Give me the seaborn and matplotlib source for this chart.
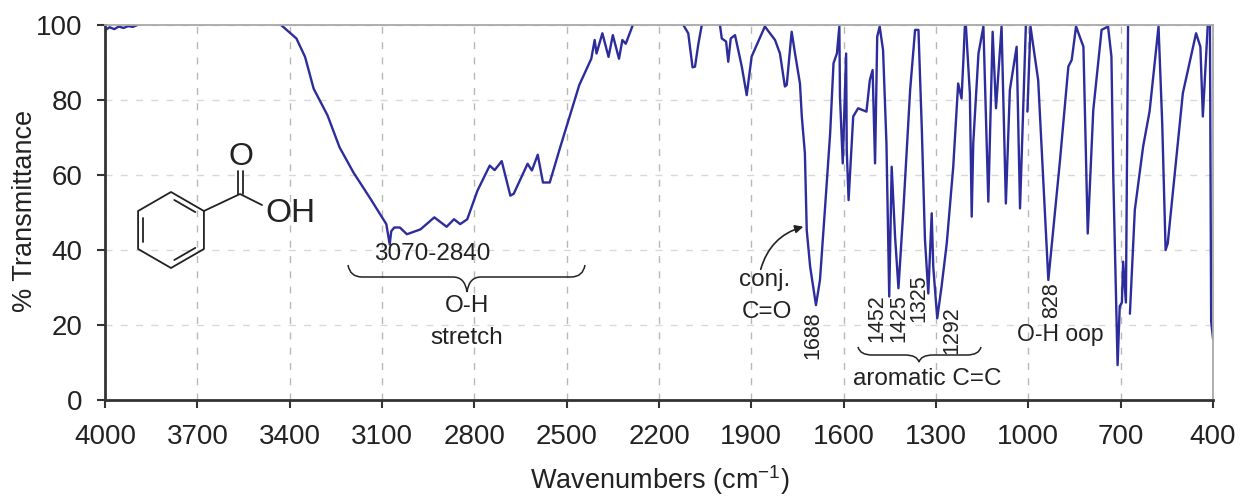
import numpy as np
import pandas as pd
import matplotlib
matplotlib.use("Agg")
import matplotlib.pyplot as plt
from matplotlib.path import Path
from matplotlib.patches import PathPatch
import seaborn as sns

# Spectrum, one pair of lists per stretch below the 100% line
wn_a = [4000, 3985, 3970, 3955, 3940, 3925, 3910, 3895]
tr_a = [98.6, 99.4, 98.9, 99.6, 99.2, 99.7, 99.5, 100]

wn_b = [3428, 3378, 3350, 3322, 3277, 3238, 3193, 3137, 3086, 3075, 3070, 3060, 3042, 3019, 2975,
        2930, 2890, 2866, 2846, 2823, 2790, 2750, 2734, 2711, 2683, 2672, 2627, 2613, 2594, 2577,
        2555, 2521, 2459, 2420, 2409, 2403, 2384, 2364, 2350, 2330, 2319, 2308, 2285]
tr_b = [100, 96.4, 91.5, 83, 75.9, 67.4, 60.7, 53.6, 46.9, 41.5, 45, 46, 46, 44.2, 45.5,
        48.7, 46.2, 48.2, 46.9, 48.2, 55.8, 62.5, 61.3, 63.7, 54.5, 55, 63, 61.2, 65.4, 58,
        58, 67.4, 84, 91, 96, 92.4, 97.8, 91.5, 97.3, 91, 96, 95, 100]

wn_c = [2121, 2105, 2091, 2083, 2072, 2061]
tr_c = [100, 97.8, 88.7, 88.9, 95, 100]

wn_d = [2002, 1996, 1982, 1975, 1967, 1953, 1931, 1915, 1899, 1856, 1823, 1807, 1791, 1785, 1769,
        1758, 1742, 1736, 1726, 1720, 1709, 1690, 1677, 1661, 1644, 1633, 1622, 1614, 1612, 1603,
        1592, 1590, 1584, 1569, 1553, 1526, 1515, 1506, 1498, 1491, 1483, 1472, 1461, 1452, 1444,
        1433, 1422, 1406, 1384, 1368, 1357, 1346, 1336, 1325, 1314, 1309, 1296, 1282, 1265, 1244,
        1228, 1217, 1211, 1206]
tr_d = [100, 96.4, 95.6, 90.2, 96.4, 97.3, 88.9, 81.3, 91.6, 99.6, 96, 92.4, 83.6, 84, 98.2,
        92.4, 84.4, 75.6, 65.8, 45.3, 35.6, 25.3, 32, 50.7, 71, 89.8, 92.4, 99.6, 80.9, 63.1,
        92.4, 66.7, 53.3, 75.6, 77.8, 76.9, 85.3, 88, 63.1, 96.9, 99.6, 93.3, 68.4, 27.6, 62.2,
        43.6, 29.8, 50.7, 82.7, 98.7, 98.7, 72, 43, 28.4, 49.8, 35.6, 21.8, 30.2, 41.8, 62.2,
        84.4, 80.4, 90.7, 100]

wn_e = [1203, 1190, 1184, 1179, 1162, 1146, 1130, 1116, 1105, 1087, 1073, 1060, 1038, 1027, 1008]
tr_e = [100, 81.8, 48.9, 68.4, 92.4, 99.6, 52.9, 98.2, 77.8, 99.6, 52.4, 82.7, 94.2, 51.1, 100]

wn_f = [1003, 993, 968, 935, 897, 870, 859, 845, 821, 807, 789, 762, 741, 730, 724, 710, 703, 696,
        692, 683, 676]
tr_f = [76.9, 99.6, 85.3, 32, 64, 88.9, 90.7, 99.6, 94.2, 44.4, 77.3, 98.7, 99.6, 91.6, 59.6, 9.3, 25, 26,
        36.9, 26, 99.6]

wn_g = [670, 654, 627, 606, 577, 565, 554, 547, 498, 455, 441, 433, 417]
tr_g = [23, 50.7, 67.6, 77, 99.6, 73.8, 40, 41.8, 81.8, 97.8, 94.2, 75.6, 100]

wn_h = [410, 406, 400]
tr_h = [100, 21, 16.4]

segments = [(wn_a, tr_a), (wn_b, tr_b), (wn_c, tr_c), (wn_d, tr_d),
            (wn_e, tr_e), (wn_f, tr_f), (wn_g, tr_g), (wn_h, tr_h)]

x_ticks = [4000, 3700, 3400, 3100, 2800, 2500, 2200, 1900, 1600, 1300, 1000, 700, 400]
y_ticks = [0, 20, 40, 60, 80, 100]

sns.set_theme(style="whitegrid")
plt.rcParams['font.family'] = ['Liberation Sans', 'DejaVu Sans']
plt.rcParams['mathtext.default'] = 'regular'

fig = plt.figure(figsize=(12.43, 4.97), dpi=100)
ax = fig.add_axes([105 / 1243, 1 - 400 / 497, (1213 - 105) / 1243, 375 / 497])

# Draw the spectrum
for wn, tr in segments:
    seg = pd.DataFrame({"wn": wn, "tr": tr})
    sns.lineplot(data=seg, x="wn", y="tr", sort=False, estimator=None,
                 color="#2c2c9c", linewidth=1.7, ax=ax)

ax.set_xlim(4000, 400)
ax.set_ylim(0, 100)
ax.set_xticks(x_ticks)
ax.set_yticks(y_ticks)
ax.set_xlabel("")
ax.set_ylabel("")
ax.tick_params(axis="both", labelsize=20, length=6, width=1.5, color="#333333",
               labelcolor="#222222", left=True, bottom=True)
ax.tick_params(axis="x", pad=11)
ax.tick_params(axis="y", pad=10)
ax.grid(True, axis="x", linestyle=(0, (5, 6)), color="#b8b8b8", linewidth=1)
ax.grid(True, axis="y", linestyle=(0, (5, 6)), color="#d8d8d8", linewidth=1)
ax.spines["left"].set(color="#333333", linewidth=2)
ax.spines["bottom"].set(color="#333333", linewidth=2)
ax.spines["top"].set(color="#a8a8a8", linewidth=1.3)
ax.spines["right"].set(color="#a8a8a8", linewidth=1.3)

# Overlay in pixel coordinates for the annotations
ov = fig.add_axes([0, 0, 1, 1], facecolor="none")
ov.set_xlim(0, 1243)
ov.set_ylim(497, 0)
ov.axis("off")


def label(x, y, s, size=17.5, rotation=0):
    ov.text(x, y, s, ha="center", va="center", fontsize=size, rotation=rotation, color="#222222")


def brace(x0, x1, xm, top, mid, tip):
    r = 14
    verts = [(x0, top), (x0 + 2, mid), (x0 + r, mid), (xm - r, mid), (xm - 2, mid), (xm, tip),
             (xm + 2, mid), (xm + r, mid), (x1 - r, mid), (x1 - 2, mid), (x1, top)]
    codes = [Path.MOVETO, Path.CURVE3, Path.CURVE3, Path.LINETO, Path.CURVE3, Path.CURVE3,
             Path.CURVE3, Path.CURVE3, Path.LINETO, Path.CURVE3, Path.CURVE3]
    ov.add_patch(PathPatch(Path(verts, codes), fc="none", ec="#222222", lw=1.1))


label(25, 211, "% Transmittance", size=19.5, rotation=90)
label(660, 480, r"Wavenumbers (cm$^{-1}$)", size=19.5)

label(432, 254, "3070-2840", size=17.5)
label(467, 306, "O-H")
label(467, 338, "stretch")
brace(348, 585, 467, 265, 277, 292)

label(765, 280, "conj.")
label(767, 312, "C=O")
ov.annotate("", xy=(806, 226), xytext=(760, 272),
            arrowprops=dict(arrowstyle="-|>", color="#222222", lw=1.2,
                            connectionstyle="arc3,rad=-0.3"))

label(813, 335, "1688", size=15.5, rotation=90)
label(877, 318, "1452", size=15.5, rotation=90)
label(899, 318, "1425", size=15.5, rotation=90)
label(919, 298, "1325", size=15.5, rotation=90)
label(952, 330, "1292", size=15.5, rotation=90)
label(1052, 300, "828", size=15.5, rotation=90)
label(1060, 335, "O-H oop", size=16.5)
label(927, 379, "aromatic C=C")
brace(858, 981, 919, 347, 355, 362)

# Benzoic acid structure
cx, cy, rad = 171, 230, 38
ang = np.radians(np.arange(30, 390, 60))
hx = cx + rad * np.cos(ang)
hy = cy - rad * np.sin(ang)
ov.plot(np.r_[hx, hx[0]], np.r_[hy, hy[0]], color="#222222", lw=1.3)
for i in (0, 2, 4):
    j = i + 1
    ax0, ay0 = cx + (hx[i] - cx) * 0.84, cy + (hy[i] - cy) * 0.84
    ax1, ay1 = cx + (hx[j] - cx) * 0.84, cy + (hy[j] - cy) * 0.84
    ov.plot([ax0 + (ax1 - ax0) * 0.12, ax1 - (ax1 - ax0) * 0.12],
            [ay0 + (ay1 - ay0) * 0.12, ay1 - (ay1 - ay0) * 0.12], color="#222222", lw=1.3)
ov.plot([hx[0], 240, 262], [hy[0], 194, 205], color="#222222", lw=1.3)
ov.plot([238, 238], [194, 171], color="#222222", lw=1.3)
ov.plot([243, 243], [194, 171], color="#222222", lw=1.3)
label(241, 157, "O", size=23)
label(290, 214, "OH", size=24)

fig.savefig("out.png", dpi=100)
